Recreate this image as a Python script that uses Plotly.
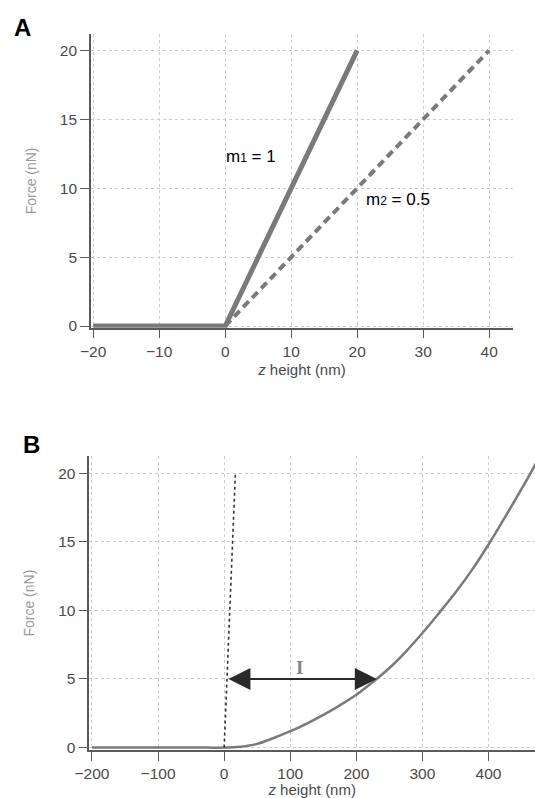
import plotly.graph_objects as go

# Panel A: two cantilever springs of different stiffness
a_stiff_z = [-20, 0, 20]
a_stiff_f = [0, 0, 20]
a_soft_z = [0, 40]
a_soft_f = [0, 20]
a_xticks = [-20, -10, 0, 10, 20, 30, 40]
a_yticks = [0, 5, 10, 15, 20]

# Panel B: hard reference surface vs. soft sample indentation
b_ref_z = [0, 17]
b_ref_f = [0, 20]
b_sample_z = [-200, -150, -100, -50, -25, 0, 25, 50, 75, 100, 125, 150, 175,
              200, 225, 250, 275, 300, 325, 350, 375, 400, 425, 450, 475]
b_sample_f = [0, 0, 0, 0, 0, 0, 0.07, 0.27, 0.7, 1.2, 1.75, 2.38, 3.08,
              3.85, 4.78, 5.8, 7.0, 8.35, 9.8, 11.3, 12.95, 14.8, 16.8, 18.85, 21.0]
b_xticks = [-200, -100, 0, 100, 200, 300, 400]
b_yticks = [0, 5, 10, 15, 20]
b_arrow_f = 5
b_arrow_left_z = 4.2
b_arrow_right_z = 231

W, H = 535, 798
FONT = "Liberation Sans, Arial, sans-serif"
LINE = "#7a7a7a"
AXIS = "#5a5a5a"
GRID = "#cccccc"
TICKTXT = "#4a4a4a"

fig = go.Figure()

fig.add_trace(go.Scatter(x=a_stiff_z, y=a_stiff_f, mode="lines",
                         line=dict(color=LINE, width=5), xaxis="x", yaxis="y",
                         showlegend=False, hoverinfo="skip"))
fig.add_trace(go.Scatter(x=a_soft_z, y=a_soft_f, mode="lines",
                         line=dict(color=LINE, width=4, dash="8px,5px"),
                         xaxis="x", yaxis="y", showlegend=False, hoverinfo="skip"))

fig.add_trace(go.Scatter(x=b_sample_z, y=b_sample_f, mode="lines",
                         line=dict(color=LINE, width=2.5, shape="spline", smoothing=1.0),
                         xaxis="x2", yaxis="y2", showlegend=False, hoverinfo="skip"))
fig.add_trace(go.Scatter(x=b_ref_z, y=b_ref_f, mode="lines",
                         line=dict(color="#333333", width=1.6, dash="dot"),
                         xaxis="x2", yaxis="y2", showlegend=False, hoverinfo="skip"))

def xaxis_cfg(dom, rng, ticks, anchor):
    return dict(domain=dom, range=rng, tickvals=ticks,
                ticktext=[str(t).replace("-", "\u2212") for t in ticks],
                showline=True, linecolor=AXIS, linewidth=1.5,
                ticks="outside", ticklen=9, tickcolor=AXIS, tickwidth=1,
                showgrid=True, gridcolor=GRID, griddash="dot", gridwidth=1,
                zeroline=False, anchor=anchor, automargin=False,
                tickfont=dict(family=FONT, size=15.5, color=TICKTXT),
                title=dict(text="<i>z</i> height (nm)", standoff=5,
                           font=dict(family=FONT, size=15, color=TICKTXT)))

def yaxis_cfg(dom, rng, ticks, anchor):
    return dict(domain=dom, range=rng, tickvals=ticks,
                showline=True, linecolor=AXIS, linewidth=1.8,
                ticks="outside", ticklen=9, tickcolor=AXIS, tickwidth=1,
                showgrid=True, gridcolor=GRID, griddash="dot", gridwidth=1,
                zeroline=False, anchor=anchor, automargin=False,
                tickfont=dict(family=FONT, size=15.5, color=TICKTXT),
                title=dict(text="Force (nN)", standoff=20,
                           font=dict(family=FONT, size=14, color="#9a9a9a")))

fig.update_layout(
    width=W, height=H,
    margin=dict(l=0, r=0, t=0, b=0),
    paper_bgcolor="white", plot_bgcolor="white",
    xaxis=xaxis_cfg([91.1 / W, 512.8 / W], [-20.32, 43.58], a_xticks, "y"),
    yaxis=yaxis_cfg([1 - 327.7 / H, 1 - 34.1 / H], [-0.123, 21.18], a_yticks, "x"),
    xaxis2=xaxis_cfg([89.4 / W, 1.0], [-203.9, 470.3], b_xticks, "y2"),
    yaxis2=yaxis_cfg([1 - 750 / H, 1 - 456.3 / H], [-0.175, 21.23], b_yticks, "x2"),
)

SUB = "<span style='font-size:12px'>{}</span>"

annotations = [
    dict(text="<b>A</b>", x=12 / W, y=1 - 12 / H, xref="paper", yref="paper",
         xanchor="left", yanchor="top", showarrow=False,
         font=dict(family=FONT, size=24, color="black")),
    dict(text="<b>B</b>", x=21 / W, y=1 - 429 / H, xref="paper", yref="paper",
         xanchor="left", yanchor="top", showarrow=False,
         font=dict(family=FONT, size=24, color="black")),
    dict(text="m" + SUB.format("1") + " = 1", x=-0.2, y=12.3, xref="x", yref="y",
         xanchor="left", yanchor="middle", showarrow=False,
         font=dict(family=FONT, size=17, color="black")),
    dict(text="m" + SUB.format("2") + " = 0.5", x=21.0, y=9.2, xref="x", yref="y",
         xanchor="left", yanchor="middle", showarrow=False,
         font=dict(family=FONT, size=17, color="black")),
    dict(text="<b>I</b>", x=113.6, y=5.85, xref="x2", yref="y2",
         xanchor="center", yanchor="middle", showarrow=False,
         font=dict(family="Liberation Serif, Times New Roman, serif", size=19,
                   color="#858585")),
    dict(x=b_arrow_right_z, y=b_arrow_f, ax=b_arrow_left_z, ay=b_arrow_f,
         xref="x2", yref="y2", axref="x2", ayref="y2", text="",
         showarrow=True, arrowhead=2, startarrowhead=2, arrowside="end+start",
         arrowsize=2.0, startarrowsize=2.0, arrowwidth=2.2, arrowcolor="#2a2a2a"),
]
fig.update_layout(annotations=annotations)

fig.write_html("out.html")
